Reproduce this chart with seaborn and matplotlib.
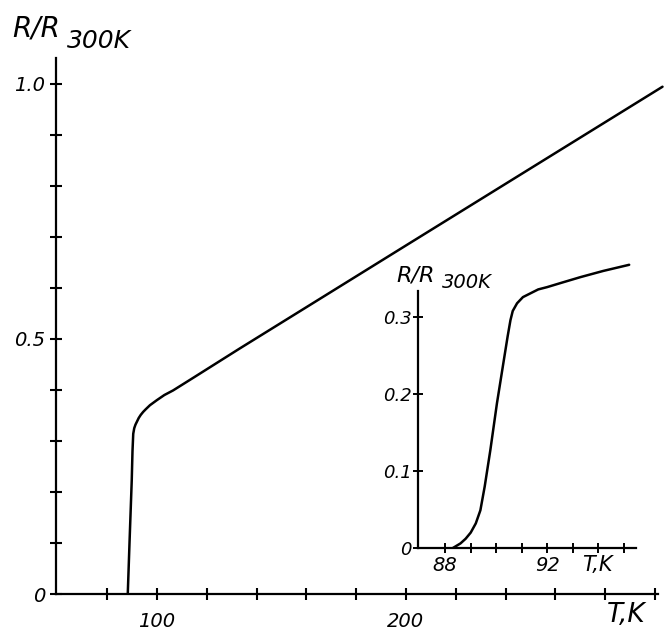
import numpy as np
import pandas as pd
import seaborn as sns
import matplotlib.pyplot as plt

# main curve: R/R300K against T (K)
temp_main = [88.3, 89.0, 89.9, 90.2, 90.5, 90.9, 91.4, 91.9, 92.7, 93.5, 94.5,
             95.5, 97.2, 100.0, 103.0, 106.5, 115.0, 133.2, 160.0, 200.0,
             250.0, 303.0]
ratio_main = [0.0, 0.10, 0.223, 0.28, 0.314, 0.325, 0.332, 0.337, 0.345, 0.351,
              0.357, 0.362, 0.370, 0.380, 0.390, 0.399, 0.425, 0.481, 0.562,
              0.683, 0.834, 0.994]

# inset: transition region
temp_inset = [88.3, 88.6, 88.8, 89.0, 89.2, 89.38, 89.55, 89.77, 90.03, 90.30,
              90.45, 90.56, 90.65, 90.82, 91.05, 91.35, 91.65, 92.0, 92.6,
              93.31, 94.2, 95.22]
ratio_inset = [0.0, 0.006, 0.012, 0.020, 0.032, 0.049, 0.080, 0.127, 0.188,
               0.244, 0.275, 0.296, 0.308, 0.318, 0.326, 0.331, 0.336, 0.339,
               0.345, 0.352, 0.360, 0.368]

main_xticks = [80, 100, 120, 140, 160, 180, 200, 220, 240, 260, 280, 300]
main_yticks = [0.0, 0.1, 0.2, 0.3, 0.4, 0.5, 0.6, 0.7, 0.8, 0.9, 1.0]
main_ylabels = {0.0: "0", 0.5: "0.5", 1.0: "1.0"}

inset_xticks = [88, 89, 90, 91, 92, 93, 94, 95]
inset_yticks = [0.0, 0.1, 0.2, 0.3]
inset_ylabels = ["0", "0.1", "0.2", "0.3"]

sns.set_style("ticks")
plt.rcParams['font.family'] = ['DejaVu Sans']
plt.rcParams['font.style'] = 'italic'
plt.rcParams['text.color'] = 'black'
plt.rcParams['xtick.color'] = 'black'
plt.rcParams['ytick.color'] = 'black'
plt.rcParams['axes.edgecolor'] = 'black'

fig = plt.figure(figsize=(6.67, 6.32), dpi=100)

main_df = pd.DataFrame({"T": temp_main, "R": ratio_main})
ax = fig.add_axes([0.084, 0.060, 0.913, 0.848])
sns.lineplot(data=main_df, x="T", y="R", color="black", lw=1.8,
             estimator=None, sort=False, ax=ax)
ax.set_xlim(59.5, 304)
ax.set_ylim(0, 1.05)
for side in ["top", "right"]:
    ax.spines[side].set_visible(False)
for side in ["left", "bottom"]:
    ax.spines[side].set_linewidth(1.6)
ax.spines["bottom"].set_bounds(59.5, 301)
ax.set_xticks(main_xticks)
ax.set_xticklabels([str(t) if t in (100, 200) else "" for t in main_xticks])
ax.set_yticks(main_yticks)
ax.set_yticklabels([main_ylabels.get(round(v, 1), "") for v in main_yticks])
ax.tick_params(direction="inout", length=8, width=1.5, labelsize=14)
ax.tick_params(axis="x", pad=9)
ax.tick_params(axis="y", pad=4)
ax.set_xlabel("")
ax.set_ylabel("")

inset_df = pd.DataFrame({"T": temp_inset, "R": ratio_inset})
ax2 = fig.add_axes([0.627, 0.1329, 0.327, 0.453])
sns.lineplot(data=inset_df, x="T", y="R", color="black", lw=1.8,
             estimator=None, sort=False, ax=ax2)
ax2.set_xlim(86.94, 95.5)
ax2.set_ylim(0, 0.372)
for side in ["top", "right"]:
    ax2.spines[side].set_visible(False)
for side in ["left", "bottom"]:
    ax2.spines[side].set_linewidth(1.6)
ax2.spines["left"].set_bounds(0, 0.334)
ax2.set_xticks(inset_xticks)
ax2.set_xticklabels([str(t) if t in (88, 92) else "" for t in inset_xticks])
ax2.set_yticks(inset_yticks)
ax2.set_yticklabels(inset_ylabels)
ax2.tick_params(direction="inout", length=7, width=1.4, labelsize=13)
ax2.tick_params(axis="x", labelsize=14, pad=2)
ax2.tick_params(axis="y", pad=1)
ax2.set_xlabel("")
ax2.set_ylabel("")

# axis titles, placed like the hand-lettered originals
fig.text(0.018, 0.9415, "R/R", fontsize=20, va="baseline", ha="left")
fig.text(0.100, 0.924, "300K", fontsize=18, va="baseline", ha="left")
fig.text(0.910, 0.0158, "T,K", fontsize=19, va="baseline", ha="left")

fig.text(0.595, 0.554, "R/R", fontsize=16, va="baseline", ha="left")
fig.text(0.663, 0.544, "300K", fontsize=14, va="baseline", ha="left")
fig.text(0.872, 0.097, "T,K", fontsize=15, va="baseline", ha="left")

plt.savefig("out.png", dpi=100)
